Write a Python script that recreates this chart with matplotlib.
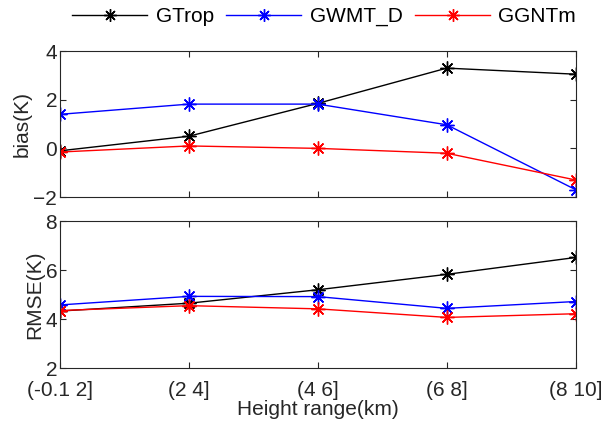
import matplotlib
matplotlib.use('Agg')
import matplotlib.pyplot as plt
import numpy as np

plt.rcParams['font.family'] = ['Liberation Sans', 'DejaVu Sans']

# %%
height_ranges = ['(-0.1 2]', '(2 4]', '(4 6]', '(6 8]', '(8 10]']
models = ['GTrop', 'GWMT_D', 'GGNTm']
colors = ['black', 'blue', 'red']

bias_gtrop = [-0.1, 0.5, 1.85, 3.3, 3.05]
bias_gwmt = [1.4, 1.82, 1.82, 0.97, -1.7]
bias_ggntm = [-0.15, 0.1, 0.0, -0.2, -1.3]

rmse_gtrop = [4.33, 4.65, 5.2, 5.83, 6.52]
rmse_gwmt = [4.58, 4.93, 4.92, 4.44, 4.72]
rmse_ggntm = [4.35, 4.55, 4.42, 4.07, 4.22]

# %%
fig = plt.figure(figsize=(6.06, 4.33), dpi=100)
ax_bias = fig.add_axes([0.099, 0.545, 0.851, 0.337])
ax_rmse = fig.add_axes([0.099, 0.150, 0.851, 0.339])

x = np.arange(len(height_ranges))
asterisk = (8, 2, 0)

for ax, series, ylabel, ylim in [
        (ax_bias, [bias_gtrop, bias_gwmt, bias_ggntm], 'bias(K)', (-2, 4)),
        (ax_rmse, [rmse_gtrop, rmse_gwmt, rmse_ggntm], 'RMSE(K)', (2, 8))]:
    for values, color, name in zip(series, colors, models):
        ax.plot(x, values, color=color, marker=asterisk, markersize=10,
                markeredgewidth=1.0, linewidth=1.0, label=name)
    ax.set_xlim(0, len(height_ranges) - 1)
    ax.set_ylim(*ylim)
    ax.set_yticks(range(ylim[0], ylim[1] + 1, 2))
    ax.set_xticks(x)
    ax.set_ylabel(ylabel, fontsize=15, color='#262626', labelpad=1)
    ax.tick_params(direction='in', top=True, right=True, labelsize=15,
                   colors='#262626', length=4, pad=2)
    for spine in ax.spines.values():
        spine.set_color('#262626')
        spine.set_linewidth(0.8)

ax_bias.set_xticklabels([])
ax_rmse.set_xticklabels(height_ranges)
ax_rmse.tick_params(axis='x', pad=9)
ax_rmse.set_xlabel('Height range(km)', fontsize=15, color='#262626', labelpad=0)

handles, labels = ax_bias.get_legend_handles_labels()
fig.legend(handles, labels, loc='center', bbox_to_anchor=(0.535, 0.962), ncol=3,
           frameon=False, fontsize=15, handlelength=3.6, handletextpad=0.4,
           columnspacing=0.6, markerscale=0.9)

fig.savefig('out.png', dpi=100)
